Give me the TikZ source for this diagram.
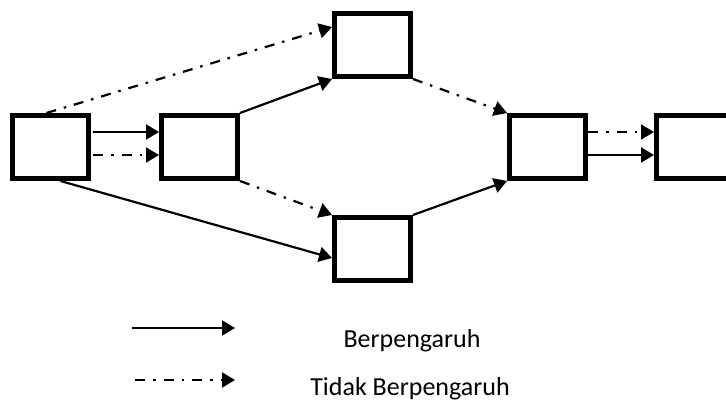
\documentclass[tikz,border=0pt]{standalone}
\usepackage{fontspec}
\setmainfont{Carlito}
\usetikzlibrary{arrows.meta}

\begin{document}
\begin{tikzpicture}[x=1pt, y=1pt,
	kotak/.style={draw, line width=5pt, minimum width=76pt, minimum height=63pt, inner sep=0pt},
	pengaruh/.style={line width=2.2pt, -{Triangle[length=13pt,width=15pt]}},
	tidak/.style={pengaruh, dash pattern=on 10pt off 8pt on 2.5pt off 8pt}]
\useasboundingbox (0,0) rectangle (726,402);
\clip (0,0) rectangle (726,402);
\node[kotak] (A) at (50.5,255) {};
\node[kotak] (B) at (199.5,255) {};
\node[kotak] (C) at (372.5,357) {};
\node[kotak] (D) at (372.5,153) {};
\node[kotak] (E) at (547.5,255) {};
\node[kotak] (F) at (694.5,255) {};
\draw[pengaruh, shorten <=2pt] ([yshift=15pt]A.east) -- ([yshift=15pt]B.west);
\draw[tidak, shorten <=2pt] ([yshift=-8pt]A.east) -- ([yshift=-8pt]B.west);
\draw[tidak] ([xshift=-4pt]A.north) -- ([yshift=18pt]C.west);
\draw[pengaruh] (B.north east) -- (C.south west);
\draw[pengaruh] ([xshift=10pt]A.south) -- ([yshift=-9pt]D.west);
\draw[tidak] (B.south east) -- (D.north west);
\draw[tidak] (C.south east) -- (E.north west);
\draw[pengaruh] (D.north east) -- (E.south west);
\draw[tidak] ([yshift=15pt]E.east) -- ([yshift=15pt]F.west);
\draw[pengaruh] ([yshift=-8pt]E.east) -- ([yshift=-8pt]F.west);
\coordinate (s1) at (132,74);
\coordinate (s2) at (235,74);
\coordinate (t1) at (135,22);
\coordinate (t2) at (235,22);
\draw[pengaruh] (s1) -- (s2);
\draw[tidak] (t1) -- (t2);
\node[anchor=base, font=\fontsize{26}{30}\selectfont] (ket1) at (412,55) {Berpengaruh};
\node[anchor=base, font=\fontsize{26}{30}\selectfont] (ket2) at (410,7) {Tidak Berpengaruh};
\end{tikzpicture}
\end{document}
